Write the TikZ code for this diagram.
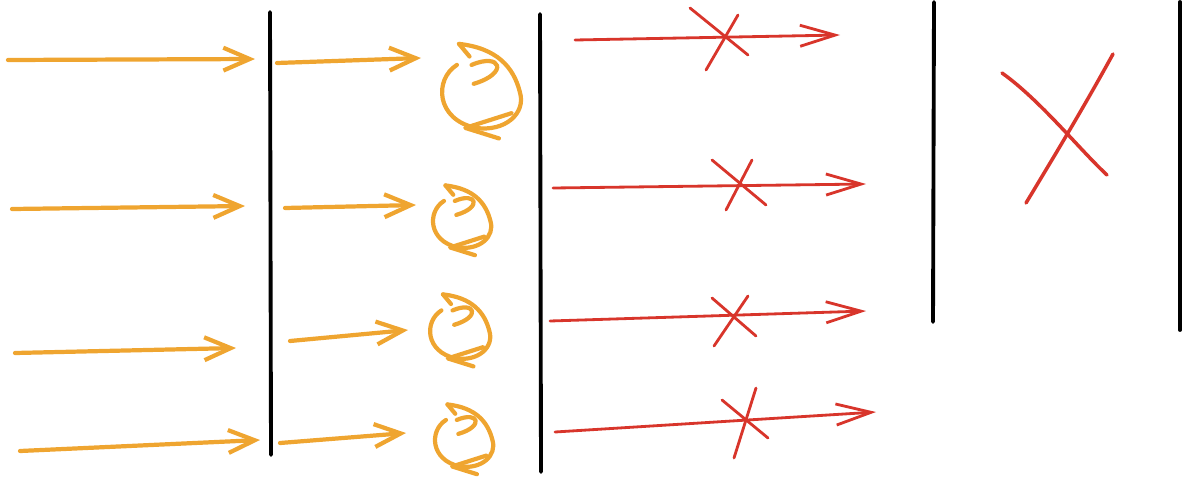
\documentclass[tikz,border=0pt]{standalone}
\usetikzlibrary{arrows.meta}
\definecolor{penorange}{HTML}{EFA530}
\definecolor{penred}{HTML}{D8352B}
\tikzset{
	wall/.style={line width=2.2pt,black,line cap=round},
	warm/.style={line width=2.4pt,penorange,line cap=round,line join=round},
	cold/.style={line width=1.6pt,penred,line cap=round,line join=round},
	warmtip/.style={-{Straight Barb[length=15pt,width=13pt]}},
	coldtip/.style={-{Straight Barb[length=20pt,width=12pt]}}
}
% hand drawn swirl: centre x, centre y, radius
\newcommand{\swirl}[3]{
	\begin{scope}[shift={(#1,#2)},x=#3*0.02cm,y=-#3*0.02cm]
		\draw[warm] (-0.55,-0.55) .. controls (-1.1,-0.2) and (-1.05,0.75) .. (-0.1,0.95)
			.. controls (0.6,1.05) and (1.1,0.6) .. (0.95,0.1)
			.. controls (0.8,-0.5) and (0.4,-0.95) .. (-0.5,-1.05);
		\draw[warm] (-0.5,-1.05) -- (-0.25,-0.75);
		\draw[warm] (-0.2,-0.55) .. controls (0.5,-0.85) and (0.7,-0.35) .. (-0.15,-0.1);
		\draw[warm] (0.75,0.6) -- (-0.35,0.95) -- (0.45,1.2);
	\end{scope}
}
\begin{document}
\begin{tikzpicture}[x=0.02cm,y=-0.02cm]
	\useasboundingbox (0,0) rectangle (1182,477);
	
	% walls
	\draw[wall] (270,12) -- (271,455);
	\draw[wall] (540,14) -- (541,472);
	\draw[wall] (934,2) -- (933,322);
	\draw[wall] (1180,2) -- (1180,330);
	
	% incoming rays
	\draw[warm,warmtip] (8,60) -- (255,59);
	\draw[warm,warmtip] (12,209) -- (245,206);
	\draw[warm,warmtip] (15,353) -- (236,348);
	\draw[warm,warmtip] (20,451) -- (260,440);
	
	% between the walls
	\draw[warm,warmtip] (277,63) -- (421,58);
	\draw[warm,warmtip] (285,208) -- (416,205);
	\draw[warm,warmtip] (290,341) -- (408,330);
	\draw[warm,warmtip] (280,443) -- (406,433);
	
	\swirl{480}{88}{42}
	\swirl{461}{218}{31}
	\swirl{459}{328}{32}
	\swirl{463}{437}{31}
	
	% blocked rays
	\draw[cold,coldtip] (575,40) -- (840,35);
	\draw[cold,coldtip] (553,188) -- (866,184);
	\draw[cold,coldtip] (550,321) -- (866,311);
	\draw[cold,coldtip] (555,432) -- (876,412);
	
	\draw[cold] (690,8) -- (748,55);
	\draw[cold] (738,15) -- (706,70);
	\draw[cold] (712,160) -- (766,205);
	\draw[cold] (752,160) -- (726,210);
	\draw[cold] (712,298) -- (756,336);
	\draw[cold] (748,296) -- (714,346);
	\draw[cold] (722,400) -- (768,438);
	\draw[cold] (756,388) -- (734,458);
	
	% big cross
	\draw[cold,line width=2pt] (1002,73) .. controls (1040,100) and (1080,150) .. (1107,175);
	\draw[cold,line width=2pt] (1113,54) .. controls (1085,105) and (1055,155) .. (1026,203);
\end{tikzpicture}
\end{document}
